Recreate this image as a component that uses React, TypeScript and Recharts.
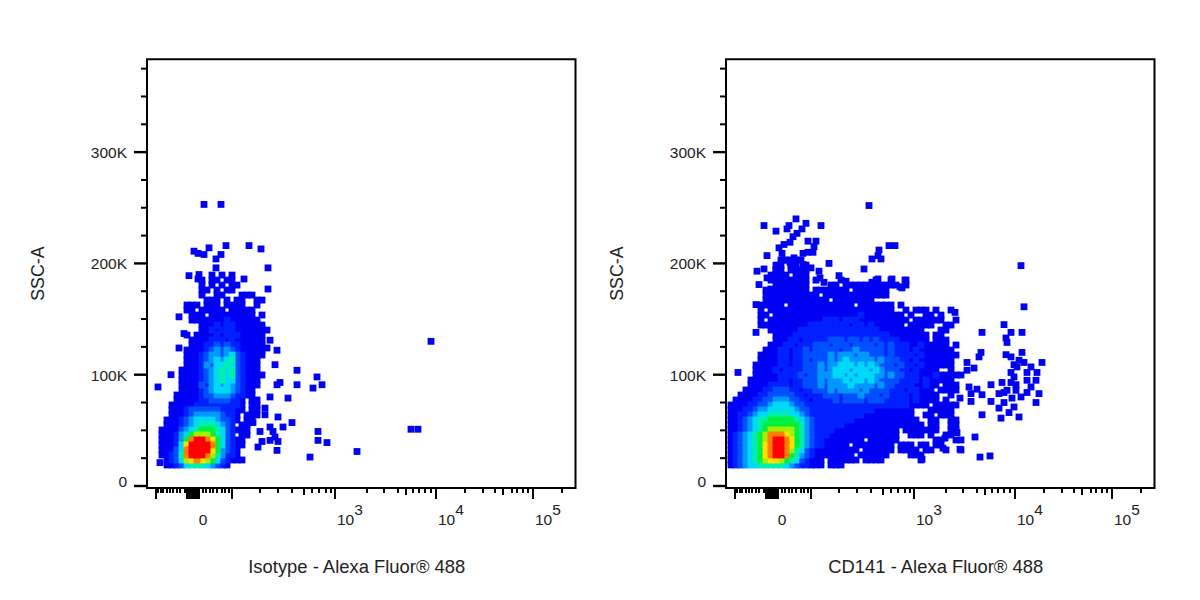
import { ScatterChart, Scatter, XAxis, YAxis, ReferenceArea } from 'recharts';

// x values are display channels of the biexponential axis, y values are SSC-A in thousands
const xDomain = [0, 428.5];
const yDomain = [-1.8, 383.4];

const yMajor = [0, 100, 200, 300];
const yMinor = [25, 50, 75, 125, 150, 175, 225, 250, 275, 325, 350, 375];

const xLong = [9, 40, 41.5, 43, 44.5, 46, 47.5, 49, 50.5, 52, 85, 188, 289, 386];
const xMinor = [11, 14, 16, 20, 23, 26, 30, 33, 38, 56, 59, 63, 66, 70, 75, 78, 82, 113, 131, 145, 157, 165, 172, 179, 184, 220, 237, 251, 259, 266, 272, 278, 284, 318, 336, 348, 356, 365, 370, 376, 381, 415];
const xMedium = [157, 259, 356];
const xLabels: Record<number, string> = { 46: '0', 188: '3', 289: '4', 386: '5' };

// density rows, one char per bin: . empty, 1-9 a b low to high
const gridStartX = 5;
const gridStepX = 5;
const gridBottomY = 18.9;
const gridStepY = 4.49;

const isotypeDensity = [
  '............1.1.1',
  '..........1.11.11',
  '..........1.1.1.11',
  '..........11.1.11',
  '..........1..11...111',
  '...........111.1.11..11',
  '.......111.111.1111..1',
  '.......11.11111.11111',
  '........111.111111111.1',
  '........11111112111111',
  '..........1112122111111',
  '..........11212221111111',
  '.......1.11112122211111',
  '........111122212111111',
  '........111223232211111',
  '.......1111234343211111',
  '.......1112344345321111',
  '.......111234545632111',
  '.......111243556532111',
  '......1111234565632111',
  '......11112345656321111',
  '......1111234565532111',
  '......1111324545432111',
  '......111123455543211',
  '.....1111123344432211',
  '.....11111223333221.11',
  '....111112222222221.11',
  '....111233333322211.11',
  '....11123444443221.111',
  '...111234555543321.11',
  '...11123456665432.11',
  '..111134567776532111',
  '..111245788876532.11',
  '..111247abba9753211',
  '..111259bbbba753211',
  '..11135abbbb974321',
  '..11236abbba864221',
  '...123589a987532111',
  '...1123566654321',
];

const cd141Density = [
  '..........11111',
  '.........11.11.1',
  '.........11.1111',
  '........1111.111',
  '........11111111.1....1......1..1..1',
  '.........1111111....11.11111111111.1',
  '.......111111111.1111111.1111111',
  '.......11111111111.1111111111111',
  '.......1111111111111.11111111',
  '......11111.1111111111111.1111111.1',
  '......1.1111111111111111111111111..1.111.1..1',
  '......11.11111111111111111211111111.1..11.1',
  '......1.1111111111122212221111111111.111111..1',
  '......11111111112222222212212111111.11111..11',
  '........1111112222222222222222111111111...11',
  '.........1111222222222222222222211111111.11',
  '.........1112212222233323323232222111111.111',
  '........111221222333233323333232322211211111.1',
  '.......11122122323333323343333323222121111111',
  '......1111221223333343444344333232222121111111',
  '......111122122323334345444443433322121111111',
  '.....1111122122333434455545454333232212111111',
  '.....1111212222333434555455545433322121111..1',
  '.....111112222323344455454555443433222111211111',
  '....11111122122333434445455454333322221211111',
  '....11112222122333434444544443433222211211.111',
  '...11112233322122333434444343333222122111.1111',
  '..1111223333322122233323334333232222121111..1',
  '.11112233444332212222323333233322222121111.1',
  '1111223345554332222222222222222222221111.11111',
  '1112234455555433222222222222211111111...11111',
  '1122345566665543222222222221111111111..11.111',
  '11234566777776543222222221111111111111..11..11',
  '112345677777776432222221111111111111111.11..11',
  '1123456788888764322221111111111111.1111111..11',
  '12345678aaa98764322211111111111111..111.1..11',
  '12345678abba976432211111111.111111.......11..11',
  '12345679abba976432211111.11111111.111.11.11',
  '12345679abba86532111111111.111111.1111.11..1..1',
  '12345679abba7643211111111.111111....111',
  '1234567899876532111.111111.1111.......1',
  '1234556666654322111.111',
];

// single cells outside the dense part: [x, y]
const isotypeSparse = [
  [57, 253], [74, 253], [79, 216], [62, 214], [47, 211], [51, 209], [57, 208], [74, 208], [102, 216], [114, 213],
  [69, 204], [121, 196], [69, 196], [42, 189], [52, 190], [51, 186], [97, 186], [121, 177], [32, 152], [37, 137],
  [123, 131], [120, 124], [130, 122], [128, 109], [150, 104], [170, 98], [130, 91], [133, 93], [150, 91], [175, 91],
  [166, 88], [123, 80], [141, 79], [118, 70], [118, 64], [131, 62], [145, 57], [136, 53], [123, 53], [126, 49],
  [171, 49], [128, 44], [171, 41], [180, 39], [131, 40], [123, 41], [130, 32], [163, 26], [115, 40], [111, 35],
  [113, 49], [106, 57], [13, 21], [11, 89], [24, 100], [32, 124], [210, 31], [284, 130], [264, 51], [271, 51],
];

const cd141Sparse = [
  [179, 185], [176, 178], [229, 156], [298, 161], [256, 138], [278, 145], [285, 138], [296, 138], [280, 133], [281, 129],
  [255, 120], [253, 116], [296, 120], [280, 118], [285, 116], [293, 113], [298, 111], [316, 111], [241, 111], [288, 109],
  [291, 107], [305, 107], [248, 106], [241, 104], [301, 102], [311, 102], [285, 102], [288, 98], [276, 93], [285, 93],
  [301, 95], [310, 95], [290, 91], [305, 89], [265, 91], [243, 89], [251, 87], [281, 86], [290, 86], [301, 84],
  [278, 84], [273, 83], [245, 83], [256, 82], [313, 83], [295, 80], [286, 79], [265, 76], [245, 76], [234, 79],
  [278, 75], [310, 75], [288, 71], [273, 70], [283, 66], [256, 64], [293, 62], [275, 61], [231, 48], [249, 44],
  [234, 33], [254, 26], [264, 27], [196, 24], [217, 34], [219, 43], [295, 198], [143, 252], [70, 240], [38, 234],
  [95, 234], [50, 229], [80, 236], [63, 234], [61, 231], [76, 231], [71, 227], [67, 224], [64, 219], [82, 220],
  [90, 220], [58, 217], [53, 214], [82, 210], [77, 209], [87, 210], [88, 215], [163, 216], [169, 216], [153, 212],
  [152, 207], [146, 204], [155, 204], [41, 207], [56, 209], [68, 205], [103, 200], [59, 203], [64, 201], [85, 196],
  [77, 199], [138, 195], [31, 193], [38, 195], [50, 194], [93, 193], [41, 187], [33, 181], [113, 189], [120, 184],
  [166, 186], [152, 186], [146, 183], [94, 187], [98, 183], [30, 163], [30, 138], [45, 177], [174, 179], [12, 102],
];

const levels = ['1', '2', '3', '4', '5', '6', '7', '8', '9', 'a', 'b'];
const levelColors: Record<string, string> = {
  '1': '#0000f5',
  '2': '#0020ff',
  '3': '#0050ff',
  '4': '#0098ff',
  '5': '#00d8f8',
  '6': '#00eeb0',
  '7': '#00f040',
  '8': '#a0f000',
  '9': '#ffe000',
  a: '#ff8000',
  b: '#ff0000',
};

const cellsForLevel = (rows: string[], level: string) => {
  const cells: { x: number; y: number }[] = [];
  rows.forEach((row, i) => {
    row.split('').forEach((ch, j) => {
      if (ch === level) {
        cells.push({
          x: gridStartX + j * gridStepX,
          y: gridBottomY + (rows.length - 1 - i) * gridStepY,
        });
      }
    });
  });
  return cells;
};

const CellSquare = ({ cx, cy, fill }: any) => (
  <rect x={cx - 3.4} y={cy - 3.4} width={6.8} height={6.8} fill={fill} />
);

const XTick = ({ x, y, payload }: any) => {
  const v = payload.value;
  const len = xLong.includes(v) ? 11 : xMedium.includes(v) ? 7 : 5;
  const label = xLabels[v];
  return (
    <g>
      <line x1={x} y1={y} x2={x} y2={y + len} stroke="#000" strokeWidth={2} />
      {label === '0' && (
        <text x={x + 10} y={y + 37} textAnchor="middle" fontSize={15.5} fill="#222">0</text>
      )}
      {label && label !== '0' && (
        <text x={x + 2} y={y + 37} fontSize={15.5} fill="#222">
          10<tspan dy={-10}>{label}</tspan>
        </text>
      )}
    </g>
  );
};

const YTick = ({ x, y, payload }: any) => {
  const v = payload.value;
  const major = yMajor.includes(v);
  return (
    <g>
      <line x1={x} y1={y} x2={x - (major ? 13 : 6)} y2={y} stroke="#000" strokeWidth={major ? 2.4 : 2} />
      {major && (
        <text x={x - 20} y={v === 0 ? y + 1 : y + 6} textAnchor="end" fontSize={15.5} fill="#222">
          {v === 0 ? '0' : `${v}K`}
        </text>
      )}
    </g>
  );
};

function DensityPlot({ rows, sparse, xLabel, left }: { rows: string[]; sparse: number[][]; xLabel: string; left: number }) {
  const sparseCells = sparse.map(([x, y]) => ({ x, y }));
  return (
    <div style={{ position: 'absolute', left, top: 0 }}>
      <ScatterChart width={600} height={600} margin={{ top: 59.3, right: 24.5, bottom: 0, left: 0 }}>
        <XAxis
          type="number"
          dataKey="x"
          domain={xDomain}
          ticks={[...xMinor, ...xLong]}
          interval={0}
          height={112}
          tick={<XTick />}
          tickLine={false}
          tickSize={0}
          tickMargin={0}
          axisLine={{ stroke: '#000', strokeWidth: 2 }}
          label={{ value: xLabel, position: 'insideBottom', offset: 27, fontSize: 18.4, fill: '#222', dx: -4.5 }}
        />
        <YAxis
          type="number"
          dataKey="y"
          domain={yDomain}
          ticks={[...yMinor, ...yMajor]}
          interval={0}
          width={147}
          tick={<YTick />}
          tickLine={false}
          tickSize={0}
          tickMargin={0}
          axisLine={{ stroke: '#000', strokeWidth: 2 }}
          label={{ value: 'SSC-A', angle: -90, position: 'insideLeft', offset: 38, fontSize: 17.8, fill: '#222', textAnchor: 'middle' }}
        />
        {levels.map((level) => (
          <Scatter
            key={level}
            data={level === '1' ? [...sparseCells, ...cellsForLevel(rows, level)] : cellsForLevel(rows, level)}
            fill={levelColors[level]}
            shape={<CellSquare />}
            isAnimationActive={false}
          />
        ))}
        <ReferenceArea x1={xDomain[0]} x2={xDomain[1]} y1={yDomain[0]} y2={yDomain[1]} fill="none" stroke="#000" strokeWidth={2} />
      </ScatterChart>
    </div>
  );
}

export default function App() {
  return (
    <div style={{ position: 'absolute', left: 0, top: 0, width: 1200, height: 600, background: '#fff', fontFamily: '"Liberation Sans", Arial, sans-serif' }}>
      <DensityPlot rows={isotypeDensity} sparse={isotypeSparse} xLabel="Isotype - Alexa Fluor® 488" left={0} />
      <DensityPlot rows={cd141Density} sparse={cd141Sparse} xLabel="CD141 - Alexa Fluor® 488" left={579} />
    </div>
  );
}
